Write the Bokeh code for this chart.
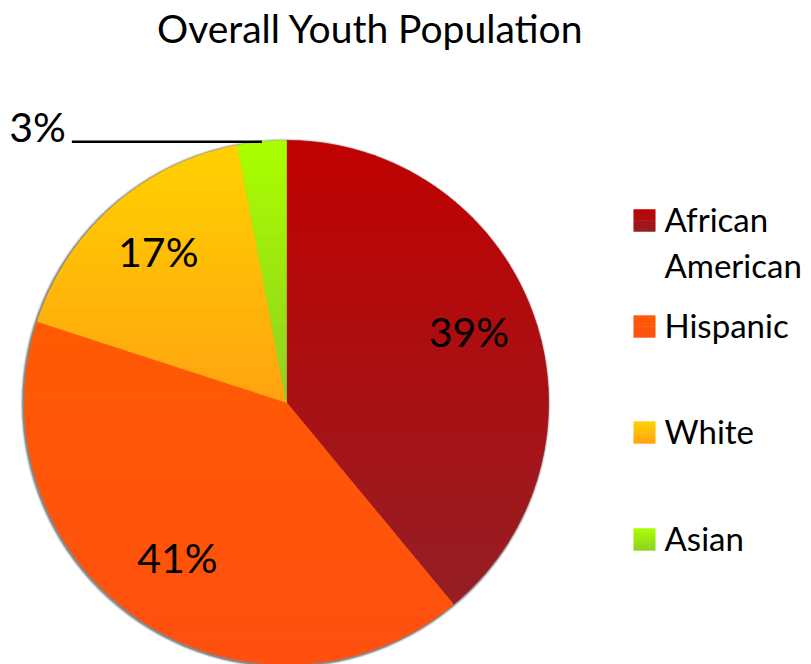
import math
from bokeh.plotting import figure
from bokeh.models import Range1d
from bokeh.core.properties import value
from bokeh.embed import file_html
from bokeh.resources import INLINE

# ---- data ----
categories = ["African American", "Hispanic", "White", "Asian"]
shares = [39, 41, 17, 3]
labels = ["39%", "41%", "17%", "3%"]
legend_lines = [["African", "American"], ["Hispanic"], ["White"], ["Asian"]]
# gradient colours (top, bottom) per slice
grad_top = ["#C00000", "#FF5A03", "#FFD200", "#AAFF00"]
grad_bot = ["#951F25", "#FF5010", "#FFA310", "#90D020"]
title_text = "Overall Youth Population"

# ---- layout (pixels) ----
W, H = 811, 664
CX, CY, R = 286, 402, 262
FONT = "Lato"
BASE_FIX = 0.37  # shift so that given y is the visual baseline

p = figure(width=W, height=H, output_backend="svg", toolbar_location=None,
           x_range=Range1d(0, W), y_range=Range1d(H, 0),
           x_axis_type=None, y_axis_type=None, min_border=0)
p.grid.visible = False
p.outline_line_color = None
p.background_fill_color = "white"
p.border_fill_color = "white"


def txt(x, y, s, size, align):
    p.text(x=[x], y=[y - BASE_FIX * size], text=[s], text_font=value(FONT),
           text_font_size="%dpx" % size, text_align=align,
           text_baseline="alphabetic", text_color="black")


def hex2rgb(h):
    h = h.lstrip("#")
    return tuple(int(h[i:i + 2], 16) for i in (0, 2, 4))


def mix(a, b, t):
    ra, rb = hex2rgb(a), hex2rgb(b)
    return "#%02x%02x%02x" % tuple(int(round(ra[i] + (rb[i] - ra[i]) * t)) for i in range(3))


def clip(poly, y, keep_above):
    out = []
    n = len(poly)
    for i in range(n):
        cur, prv = poly[i], poly[i - 1]
        cin = cur[1] >= y if keep_above else cur[1] <= y
        pin = prv[1] >= y if keep_above else prv[1] <= y
        if cin:
            if not pin:
                t = (y - prv[1]) / (cur[1] - prv[1])
                out.append((prv[0] + t * (cur[0] - prv[0]), y))
            out.append(cur)
        elif pin:
            t = (y - prv[1]) / (cur[1] - prv[1])
            out.append((prv[0] + t * (cur[0] - prv[0]), y))
    return out


def pt(theta, r):
    return (CX + r * math.sin(theta), CY - r * math.cos(theta))


# soft shadow
for off, a in [(3.0, 0.12), (2.0, 0.25), (1.2, 0.45)]:
    p.circle(x=[CX - 1], y=[CY + 1], radius=R + off, fill_color="#444444",
             fill_alpha=a, line_color=None)

total = sum(shares)
start = 0.0
xs_all, ys_all, cols_all = [], [], []
mids = []
NB = 30
for i, s in enumerate(shares):
    a0 = start / total * 2 * math.pi
    a1 = (start + s) / total * 2 * math.pi
    start += s
    mids.append((a0 + a1) / 2)
    steps = max(4, int((a1 - a0) / (2 * math.pi) * 360))
    poly = [(CX, CY)] + [pt(a0 + (a1 - a0) * k / steps, R) for k in range(steps + 1)]
    ymin = min(q[1] for q in poly)
    ymax = max(q[1] for q in poly)
    for b in range(NB):
        y0 = ymin + (ymax - ymin) * b / NB
        y1 = ymin + (ymax - ymin) * (b + 1) / NB
        band = clip(clip(poly, y0 - 0.3, True), y1 + 0.3, False)
        if len(band) < 3:
            continue
        xs_all.append([q[0] for q in band])
        ys_all.append([q[1] for q in band])
        cols_all.append(mix(grad_top[i], grad_bot[i], (b + 0.5) / NB))

p.patches(xs=xs_all, ys=ys_all, fill_color=cols_all, line_color=cols_all, line_width=0.6)

# slice labels
for i, lab in enumerate(labels):
    if shares[i] >= 10:
        lx, ly = pt(mids[i], 0.74 * R)
        txt(lx, ly + 10, lab, 41, "center")
    else:
        ex, ey = pt(mids[i], R)
        p.line(x=[ex, ex - 190], y=[ey, ey], line_color="black", line_width=2.5)
        txt(ex - 196, ey, lab, 41, "right")

# title
txt(370, 42, title_text, 39, "center")

# legend
leg_y = [231, 337, 443, 550]
for i, lines in enumerate(legend_lines):
    by = leg_y[i]
    nb = 8
    for b in range(nb):
        p.quad(left=[633], right=[655], top=[by - 22 + 22 * b / nb - 0.2],
               bottom=[by - 22 + 22 * (b + 1) / nb + 0.2],
               fill_color=mix(grad_top[i], grad_bot[i], (b + 0.5) / nb), line_color=None)
    for j, ln in enumerate(lines):
        txt(664, by + 46 * j, ln, 33, "left")

open("out.html", "w").write(file_html(p, INLINE))
